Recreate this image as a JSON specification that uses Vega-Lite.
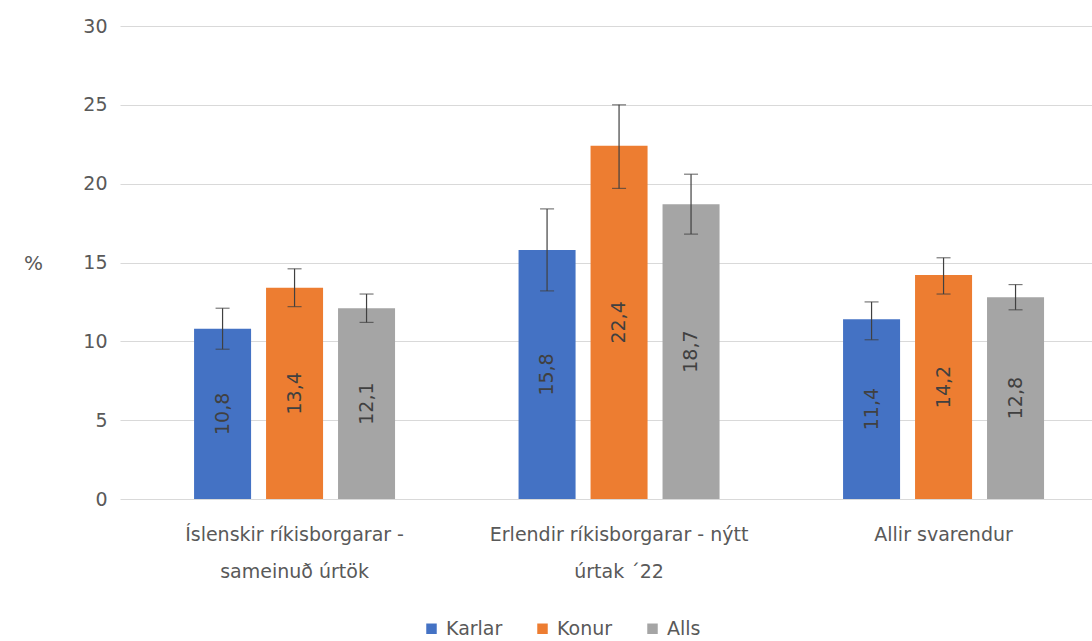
{
  "$schema": "https://vega.github.io/schema/vega-lite/v6.json",
  "width": 972,
  "height": 473,
  "autosize": {"type": "none"},
  "padding": {"left": 120, "top": 26, "right": 0, "bottom": 142},
  "background": "white",
  "config": {
    "font": "DejaVu Sans",
    "view": {"stroke": null},
    "locale": {"number": {"decimal": ",", "thousands": ".", "grouping": [3], "currency": ["", ""]}}
  },
  "data": {
    "values": [
      {"group": "Íslenskir ríkisborgarar - sameinuð úrtök", "series": "Karlar", "value": 10.8, "lo": 9.5, "hi": 12.1},
      {"group": "Íslenskir ríkisborgarar - sameinuð úrtök", "series": "Konur", "value": 13.4, "lo": 12.2, "hi": 14.6},
      {"group": "Íslenskir ríkisborgarar - sameinuð úrtök", "series": "Alls", "value": 12.1, "lo": 11.2, "hi": 13.0},
      {"group": "Erlendir ríkisborgarar - nýtt úrtak ´22", "series": "Karlar", "value": 15.8, "lo": 13.2, "hi": 18.4},
      {"group": "Erlendir ríkisborgarar - nýtt úrtak ´22", "series": "Konur", "value": 22.4, "lo": 19.7, "hi": 25.0},
      {"group": "Erlendir ríkisborgarar - nýtt úrtak ´22", "series": "Alls", "value": 18.7, "lo": 16.8, "hi": 20.6},
      {"group": "Allir svarendur", "series": "Karlar", "value": 11.4, "lo": 10.1, "hi": 12.5},
      {"group": "Allir svarendur", "series": "Konur", "value": 14.2, "lo": 13.0, "hi": 15.3},
      {"group": "Allir svarendur", "series": "Alls", "value": 12.8, "lo": 12.0, "hi": 13.6}
    ]
  },
  "encoding": {
    "x": {
      "field": "group", "type": "nominal", "sort": null, "title": null,
      "scale": {"paddingInner": 0.3806, "paddingOuter": 0.188, "align": 0.607},
      "axis": {
        "labelAngle": 0, "ticks": false, "domain": false,
        "labelFontSize": 19, "labelColor": "#595959", "labelLineHeight": 37,
        "labelPadding": 26, "labelLimit": 400,
        "labelExpr": "datum.value == 'Íslenskir ríkisborgarar - sameinuð úrtök' ? ['Íslenskir ríkisborgarar -', 'sameinuð úrtök'] : datum.value == 'Erlendir ríkisborgarar - nýtt úrtak ´22' ? ['Erlendir ríkisborgarar - nýtt', 'úrtak ´22'] : datum.value"
      }
    },
    "xOffset": {"field": "series", "type": "nominal", "sort": ["Karlar", "Konur", "Alls"], "scale": {"paddingInner": 0.208, "paddingOuter": 0}}
  },
  "layer": [
    {
      "layer": [
        {
          "mark": {"type": "bar"},
          "encoding": {
            "y": {
              "field": "value", "type": "quantitative", "title": "%",
              "scale": {"domain": [0, 30]},
              "axis": {
                "values": [0, 5, 10, 15, 20, 25, 30], "ticks": false, "domain": false,
                "gridColor": "#d9d9d9", "labelFontSize": 19, "labelColor": "#595959", "labelPadding": 13,
                "titleAngle": 0, "titleFontSize": 20, "titleFontWeight": "normal", "titleColor": "#595959",
                "titleX": -87, "titleY": 237, "titleBaseline": "middle", "titleAlign": "center"
              }
            },
            "color": {
              "field": "series", "type": "nominal", "title": null,
              "scale": {"domain": ["Karlar", "Konur", "Alls"], "range": ["#4472C4", "#ED7D31", "#A5A5A5"]},
              "legend": {
                "orient": "none", "direction": "horizontal", "legendX": 302, "legendY": 593,
                "symbolType": "square", "symbolSize": 110, "symbolStrokeWidth": 0,
                "labelFontSize": 19, "labelColor": "#595959", "columnPadding": 30, "labelOffset": 5
              }
            }
          }
        },
        {
          "mark": {"type": "rule", "color": "#404040", "strokeWidth": 1.2},
          "encoding": {
            "y": {"field": "lo", "type": "quantitative"},
            "y2": {"field": "hi"}
          }
        },
        {
          "mark": {"type": "tick", "color": "#404040", "size": 14, "thickness": 1.2},
          "encoding": {"y": {"field": "lo", "type": "quantitative"}}
        },
        {
          "mark": {"type": "tick", "color": "#404040", "size": 14, "thickness": 1.2},
          "encoding": {"y": {"field": "hi", "type": "quantitative"}}
        }
      ]
    },
    {
      "mark": {"type": "text", "angle": 270, "fontSize": 19, "color": "#404040", "align": "center", "baseline": "middle"},
      "encoding": {
        "y": {"field": "value", "type": "quantitative", "scale": {"domain": [0, 60]}, "axis": null},
        "text": {"field": "value", "type": "quantitative", "format": ".1f"}
      }
    }
  ],
  "resolve": {"scale": {"y": "independent"}}
}
